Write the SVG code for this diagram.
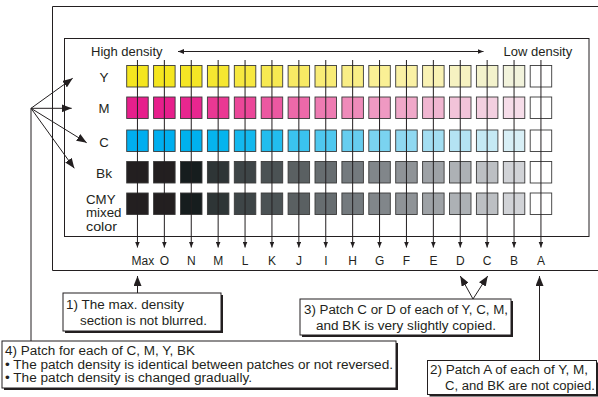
<svg xmlns="http://www.w3.org/2000/svg" width="598" height="397" viewBox="0 0 598 397">
<defs>
<style>
text{font-family:"Liberation Sans",Arial,sans-serif;fill:#231f20}
.t13{font-size:13px}
.b{font-size:12.5px}
.rl{font-size:13px}
.t12{font-size:12px}
.ln{stroke:#231f20;stroke-width:1;fill:none}
.frame{stroke:#231f20;stroke-width:1;fill:none}
.p{stroke:#3a3a3a;stroke-width:0.9}
.box{fill:#fff;stroke:#231f20;stroke-width:1}
.sh{fill:#231f20}
.mid{text-anchor:middle}
</style>
<marker id="big" viewBox="0 0 10 8" refX="10" refY="4" markerWidth="10" markerHeight="8" markerUnits="userSpaceOnUse" orient="auto"><path d="M0,0L10,4L0,8z" fill="#231f20"/></marker>
<marker id="sm" viewBox="0 0 6 5" refX="6" refY="2.5" markerWidth="6" markerHeight="5" markerUnits="userSpaceOnUse" orient="auto-start-reverse"><path d="M0,0L6,2.5L0,5z" fill="#231f20"/></marker>
</defs>
<rect width="598" height="397" fill="#fff"/>
<path class="frame" d="M600,6.5H52.5V270.5H600"/>
<rect class="frame" x="64.5" y="38.5" width="524.5" height="198"/>

<g id="density-scale">
<text class="t13" x="91" y="55.5">High density</text>
<text class="t13" x="503.5" y="55.5">Low density</text>
</g>

<g id="row-labels">
<text class="rl mid" x="104" y="81.5" textLength="9" lengthAdjust="spacingAndGlyphs">Y</text>
<text class="rl mid" x="104" y="112.5" textLength="11" lengthAdjust="spacingAndGlyphs">M</text>
<text class="rl mid" x="104" y="146.5" textLength="9.5" lengthAdjust="spacingAndGlyphs">C</text>
<text class="rl mid" x="104" y="178" textLength="16" lengthAdjust="spacingAndGlyphs">Bk</text>
<text class="rl" x="86" y="203.5" textLength="29.5" lengthAdjust="spacingAndGlyphs">CMY</text>
<text class="rl" x="86" y="217" textLength="35.5" lengthAdjust="spacingAndGlyphs">mixed</text>
<text class="rl" x="86" y="230.5" textLength="31" lengthAdjust="spacingAndGlyphs">color</text>
</g>

<g id="patches-Y" transform="translate(0,65.5)">
<rect class="p" x="126.7" width="21.5" height="21.5" fill="#f5e61f"/>
<rect class="p" x="153.6" width="21.5" height="21.5" fill="#f5e61f"/>
<rect class="p" x="180.5" width="21.5" height="21.5" fill="#f5e625"/>
<rect class="p" x="207.4" width="21.5" height="21.5" fill="#f6e730"/>
<rect class="p" x="234.3" width="21.5" height="21.5" fill="#f7e840"/>
<rect class="p" x="261.2" width="21.5" height="21.5" fill="#f7e951"/>
<rect class="p" x="288.1" width="21.5" height="21.5" fill="#f8ea64"/>
<rect class="p" x="315.0" width="21.5" height="21.5" fill="#f9ec76"/>
<rect class="p" x="341.9" width="21.5" height="21.5" fill="#f9ee86"/>
<rect class="p" x="368.8" width="21.5" height="21.5" fill="#faf095"/>
<rect class="p" x="395.7" width="21.5" height="21.5" fill="#faf1a5"/>
<rect class="p" x="422.6" width="21.5" height="21.5" fill="#f9f2b4"/>
<rect class="p" x="449.5" width="21.5" height="21.5" fill="#f6f2c1"/>
<rect class="p" x="476.4" width="21.5" height="21.5" fill="#f3f2cc"/>
<rect class="p" x="503.3" width="21.5" height="21.5" fill="#f2f3dc"/>
<rect class="p" x="530.2" width="21.5" height="21.5" fill="#ffffff"/>
</g>
<g id="patches-M" transform="translate(0,97)">
<rect class="p" x="126.7" width="21.5" height="21.5" fill="#e71f8c"/>
<rect class="p" x="153.6" width="21.5" height="21.5" fill="#e71f8c"/>
<rect class="p" x="180.5" width="21.5" height="21.5" fill="#e8268f"/>
<rect class="p" x="207.4" width="21.5" height="21.5" fill="#ea3893"/>
<rect class="p" x="234.3" width="21.5" height="21.5" fill="#eb4799"/>
<rect class="p" x="261.2" width="21.5" height="21.5" fill="#ec58a1"/>
<rect class="p" x="288.1" width="21.5" height="21.5" fill="#ed69a9"/>
<rect class="p" x="315.0" width="21.5" height="21.5" fill="#ee7bb2"/>
<rect class="p" x="341.9" width="21.5" height="21.5" fill="#ef8bba"/>
<rect class="p" x="368.8" width="21.5" height="21.5" fill="#ef99c2"/>
<rect class="p" x="395.7" width="21.5" height="21.5" fill="#f0a8c9"/>
<rect class="p" x="422.6" width="21.5" height="21.5" fill="#f1b6d1"/>
<rect class="p" x="449.5" width="21.5" height="21.5" fill="#f2c3d9"/>
<rect class="p" x="476.4" width="21.5" height="21.5" fill="#f3cfe0"/>
<rect class="p" x="503.3" width="21.5" height="21.5" fill="#f6dde9"/>
<rect class="p" x="530.2" width="21.5" height="21.5" fill="#ffffff"/>
</g>
<g id="patches-C" transform="translate(0,130)">
<rect class="p" x="126.7" width="21.5" height="21.5" fill="#00aeef"/>
<rect class="p" x="153.6" width="21.5" height="21.5" fill="#00afef"/>
<rect class="p" x="180.5" width="21.5" height="21.5" fill="#00b1ee"/>
<rect class="p" x="207.4" width="21.5" height="21.5" fill="#05b4ee"/>
<rect class="p" x="234.3" width="21.5" height="21.5" fill="#13b8ee"/>
<rect class="p" x="261.2" width="21.5" height="21.5" fill="#22bdee"/>
<rect class="p" x="288.1" width="21.5" height="21.5" fill="#3ac3ef"/>
<rect class="p" x="315.0" width="21.5" height="21.5" fill="#4fc8ef"/>
<rect class="p" x="341.9" width="21.5" height="21.5" fill="#66cdef"/>
<rect class="p" x="368.8" width="21.5" height="21.5" fill="#7ad3f0"/>
<rect class="p" x="395.7" width="21.5" height="21.5" fill="#8fd8f1"/>
<rect class="p" x="422.6" width="21.5" height="21.5" fill="#a3def2"/>
<rect class="p" x="449.5" width="21.5" height="21.5" fill="#b4e3f3"/>
<rect class="p" x="476.4" width="21.5" height="21.5" fill="#c5e9f4"/>
<rect class="p" x="503.3" width="21.5" height="21.5" fill="#d8eff6"/>
<rect class="p" x="530.2" width="21.5" height="21.5" fill="#ffffff"/>
</g>
<g id="patches-Bk" transform="translate(0,161.5)">
<rect class="p" x="126.7" width="21.5" height="21.5" fill="#231f20"/>
<rect class="p" x="153.6" width="21.5" height="21.5" fill="#231f20"/>
<rect class="p" x="180.5" width="21.5" height="21.5" fill="#161d1e"/>
<rect class="p" x="207.4" width="21.5" height="21.5" fill="#2e3536"/>
<rect class="p" x="234.3" width="21.5" height="21.5" fill="#3e4547"/>
<rect class="p" x="261.2" width="21.5" height="21.5" fill="#4b5254"/>
<rect class="p" x="288.1" width="21.5" height="21.5" fill="#5a6062"/>
<rect class="p" x="315.0" width="21.5" height="21.5" fill="#676d70"/>
<rect class="p" x="341.9" width="21.5" height="21.5" fill="#747a7e"/>
<rect class="p" x="368.8" width="21.5" height="21.5" fill="#81868a"/>
<rect class="p" x="395.7" width="21.5" height="21.5" fill="#8f9397"/>
<rect class="p" x="422.6" width="21.5" height="21.5" fill="#9ea2a6"/>
<rect class="p" x="449.5" width="21.5" height="21.5" fill="#adb1b5"/>
<rect class="p" x="476.4" width="21.5" height="21.5" fill="#bcbfc3"/>
<rect class="p" x="503.3" width="21.5" height="21.5" fill="#d1d3d7"/>
<rect class="p" x="530.2" width="21.5" height="21.5" fill="#ffffff"/>
</g>
<g id="patches-CMY" transform="translate(0,193)">
<rect class="p" x="126.7" width="21.5" height="21.5" fill="#231f20"/>
<rect class="p" x="153.6" width="21.5" height="21.5" fill="#231f20"/>
<rect class="p" x="180.5" width="21.5" height="21.5" fill="#161d1e"/>
<rect class="p" x="207.4" width="21.5" height="21.5" fill="#2e3536"/>
<rect class="p" x="234.3" width="21.5" height="21.5" fill="#3e4547"/>
<rect class="p" x="261.2" width="21.5" height="21.5" fill="#4b5254"/>
<rect class="p" x="288.1" width="21.5" height="21.5" fill="#5a6062"/>
<rect class="p" x="315.0" width="21.5" height="21.5" fill="#676d70"/>
<rect class="p" x="341.9" width="21.5" height="21.5" fill="#747a7e"/>
<rect class="p" x="368.8" width="21.5" height="21.5" fill="#81868a"/>
<rect class="p" x="395.7" width="21.5" height="21.5" fill="#8f9397"/>
<rect class="p" x="422.6" width="21.5" height="21.5" fill="#9ea2a6"/>
<rect class="p" x="449.5" width="21.5" height="21.5" fill="#adb1b5"/>
<rect class="p" x="476.4" width="21.5" height="21.5" fill="#bcbfc3"/>
<rect class="p" x="503.3" width="21.5" height="21.5" fill="#d1d3d7"/>
<rect class="p" x="530.2" width="21.5" height="21.5" fill="#ffffff"/>
</g>

<g id="column-labels">
<text class="t12" x="131.5" y="264.5">Max</text>
<text class="t12 mid" x="164.4" y="264.5">O</text>
<text class="t12 mid" x="191.3" y="264.5">N</text>
<text class="t12 mid" x="218.2" y="264.5">M</text>
<text class="t12 mid" x="245.1" y="264.5">L</text>
<text class="t12 mid" x="272" y="264.5">K</text>
<text class="t12 mid" x="298.9" y="264.5">J</text>
<text class="t12 mid" x="325.8" y="264.5">I</text>
<text class="t12 mid" x="352.7" y="264.5">H</text>
<text class="t12 mid" x="379.6" y="264.5">G</text>
<text class="t12 mid" x="406.5" y="264.5">F</text>
<text class="t12 mid" x="433.4" y="264.5">E</text>
<text class="t12 mid" x="460.3" y="264.5">D</text>
<text class="t12 mid" x="487.2" y="264.5">C</text>
<text class="t12 mid" x="514.1" y="264.5">B</text>
<text class="t12 mid" x="541" y="264.5">A</text>
</g>

<g id="connectors">
<line class="ln" x1="178" y1="51.5" x2="483.5" y2="51.5" marker-start="url(#sm)" marker-end="url(#sm)"/>
<g marker-end="url(#sm)">
<line class="ln" x1="137.45" y1="60" x2="137.45" y2="247.5"/>
<line class="ln" x1="164.35" y1="60" x2="164.35" y2="247.5"/>
<line class="ln" x1="191.25" y1="60" x2="191.25" y2="247.5"/>
<line class="ln" x1="218.15" y1="60" x2="218.15" y2="247.5"/>
<line class="ln" x1="245.05" y1="60" x2="245.05" y2="247.5"/>
<line class="ln" x1="271.95" y1="60" x2="271.95" y2="247.5"/>
<line class="ln" x1="298.85" y1="60" x2="298.85" y2="247.5"/>
<line class="ln" x1="325.75" y1="60" x2="325.75" y2="247.5"/>
<line class="ln" x1="352.65" y1="60" x2="352.65" y2="247.5"/>
<line class="ln" x1="379.55" y1="60" x2="379.55" y2="247.5"/>
<line class="ln" x1="406.45" y1="60" x2="406.45" y2="247.5"/>
<line class="ln" x1="433.35" y1="60" x2="433.35" y2="247.5"/>
<line class="ln" x1="460.25" y1="60" x2="460.25" y2="247.5"/>
<line class="ln" x1="487.15" y1="60" x2="487.15" y2="247.5"/>
<line class="ln" x1="514.05" y1="60" x2="514.05" y2="247.5"/>
<line class="ln" x1="540.95" y1="60" x2="540.95" y2="247.5"/>
</g>
<g marker-end="url(#big)">
<line class="ln" x1="31" y1="108.3" x2="72.7" y2="78.3"/>
<line class="ln" x1="31" y1="108.3" x2="71.7" y2="108.3"/>
<line class="ln" x1="31" y1="108.3" x2="86.7" y2="142.7"/>
<line class="ln" x1="31" y1="108.3" x2="74.3" y2="168.3"/>
<line class="ln" x1="137.5" y1="293" x2="137.5" y2="276"/>
<line class="ln" x1="473" y1="299" x2="460.3" y2="276"/>
<line class="ln" x1="473" y1="299" x2="487.7" y2="276"/>
<line class="ln" x1="539.5" y1="360.5" x2="539.5" y2="276"/>
</g>
<line class="ln" x1="31" y1="108.3" x2="31" y2="341"/>
</g>

<g id="note-1">
<rect class="sh" x="65" y="295" width="158" height="38"/>
<rect class="box" x="63" y="293" width="158" height="38"/>
<text class="b" x="66" y="309" textLength="118" lengthAdjust="spacingAndGlyphs">1) The max. density</text>
<text class="b" x="80" y="325" textLength="127" lengthAdjust="spacingAndGlyphs">section is not blurred.</text>
</g>

<g id="note-3">
<rect class="sh" x="302" y="301" width="211" height="36"/>
<rect class="box" x="300" y="299" width="211" height="36"/>
<text class="b" x="304" y="314" textLength="204" lengthAdjust="spacingAndGlyphs">3) Patch C or D of each of Y, C, M,</text>
<text class="b" x="316" y="330" textLength="180" lengthAdjust="spacingAndGlyphs">and BK is very slightly copied.</text>
</g>

<g id="note-4">
<rect class="sh" x="4" y="343" width="394" height="47"/>
<rect class="box" x="2" y="341" width="394" height="47"/>
<text class="b" x="5" y="355" textLength="190" lengthAdjust="spacingAndGlyphs">4) Patch for each of C, M, Y, BK</text>
<text class="b" x="5" y="368.5" textLength="388" lengthAdjust="spacingAndGlyphs">• The patch density is identical between patches or not reversed.</text>
<text class="b" x="5" y="382" textLength="247" lengthAdjust="spacingAndGlyphs">• The patch density is changed gradually.</text>
</g>

<g id="note-2">
<rect class="sh" x="429.5" y="362.5" width="169" height="34"/>
<rect class="box" x="427.5" y="360.5" width="169" height="34"/>
<text class="b" x="430" y="374" textLength="158" lengthAdjust="spacingAndGlyphs">2) Patch A of each of Y, M,</text>
<text class="b" x="445" y="390" textLength="150" lengthAdjust="spacingAndGlyphs">C, and BK are not copied.</text>
</g>
</svg>
